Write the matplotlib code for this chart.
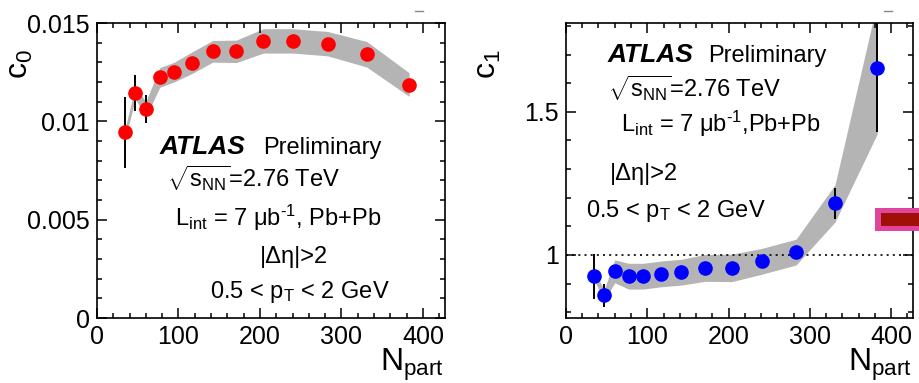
"""
c0 and c1 versus Npart, ATLAS Pb+Pb 2.76 TeV
"""

import numpy as np
import matplotlib
matplotlib.use("Agg")
from matplotlib import pyplot as plt
from matplotlib.ticker import MultipleLocator, FormatStrFormatter
from matplotlib.patches import Rectangle
from matplotlib.lines import Line2D

plt.rcParams['font.family'] = ['Liberation Sans', 'DejaVu Sans']
plt.rcParams['mathtext.fontset'] = 'custom'
plt.rcParams['mathtext.rm'] = 'Liberation Sans'
plt.rcParams['mathtext.it'] = 'Liberation Sans:italic'
plt.rcParams['mathtext.bf'] = 'Liberation Sans:bold'

# centrality bins
npart = np.array([35, 47, 60, 77, 95, 117, 142, 171, 204, 241, 283, 331, 383])

c0 = np.array([0.00944, 0.01145, 0.01062, 0.01223, 0.01251, 0.01299, 0.01356,
               0.01356, 0.01409, 0.01409, 0.01395, 0.01341, 0.01187])
c0_stat = np.array([0.0018, 0.0009, 0.0007, 0.0002, 0.0001, 0.0001, 0.0001,
                    0.0001, 0.0001, 0.0001, 0.0001, 0.0001, 0.0001])
c0_sys = np.array([0.0003, 0.0003, 0.0004, 0.0005, 0.0005, 0.00055, 0.00055,
                   0.00057, 0.00062, 0.00062, 0.00062, 0.00065, 0.0006])

c1 = np.array([0.926, 0.860, 0.943, 0.926, 0.926, 0.934, 0.940, 0.955, 0.955,
               0.978, 1.010, 1.180, 1.653])
c1_stat = np.array([0.079, 0.04, 0.02, 0.012, 0.01, 0.01, 0.01, 0.01, 0.01,
                    0.01, 0.01, 0.055, 0.225])
c1_sys = np.array([0.015, 0.02, 0.04, 0.045, 0.045, 0.045, 0.045, 0.047, 0.048,
                   0.045, 0.045, 0.065, 0.23])

TEXT_SIZE = 17
TICK_SIZE = 18
LABEL_SIZE = 23
BAND_COLOR = '#b4b4b4'

SQRT_S = r'$\sqrt{\mathrm{s}_{\rm NN}}$=2.76 TeV'
PT_CUT = r'0.5 < p$_{\rm T}$ < 2 GeV'


def style_axes(ax, ymajor, yminor, yfmt):
    ax.set_xlim(0, 427)
    ax.xaxis.set_major_locator(MultipleLocator(100))
    ax.xaxis.set_minor_locator(MultipleLocator(20))
    ax.yaxis.set_major_locator(MultipleLocator(ymajor))
    ax.yaxis.set_minor_locator(MultipleLocator(yminor))
    ax.yaxis.set_major_formatter(FormatStrFormatter(yfmt))
    ax.tick_params(which='both', direction='in', top=True, right=True,
                   width=1.1, labelsize=TICK_SIZE)
    ax.tick_params(which='major', length=7, pad=5)
    ax.tick_params(which='minor', length=3.6)
    for sp in ax.spines.values():
        sp.set_linewidth(1.2)


def draw_series(ax, y, stat, sys, color):
    ax.fill_between(npart, y - sys, y + sys, color=BAND_COLOR, lw=0, zorder=1)
    ax.errorbar(npart, y, yerr=stat, fmt='o', color=color, ecolor='black',
                elinewidth=1.4, capsize=0, markersize=9.5, zorder=3)


def atlas_label(ax, x, y, xprel):
    ax.text(x, y, 'ATLAS', fontsize=19, fontweight='bold',
            fontstyle='italic', va='baseline')
    ax.text(xprel, y, 'Preliminary', fontsize=TEXT_SIZE, va='baseline')


def axis_titles(ax, ytitle, xlab_x):
    ax.text(xlab_x, 0.91, ytitle, transform=ax.transAxes, rotation=90,
            fontsize=LABEL_SIZE, ha='center', va='top')
    ax.text(0.996, -0.098, r'N$_{\rm part}$', transform=ax.transAxes,
            fontsize=LABEL_SIZE, ha='right', va='top')


fig = plt.figure(figsize=(9.2, 3.83), dpi=100)
ax0 = fig.add_axes([0.1054, 0.1697, 0.3783, 0.7702])
ax1 = fig.add_axes([0.6152, 0.1697, 0.3772, 0.7702])

# left: c0
style_axes(ax0, 0.005, 0.001, '%g')
ax0.set_ylim(0, 0.015)
draw_series(ax0, c0, c0_stat, c0_sys, '#ff0000')
atlas_label(ax0, 77, 0.00834, 204)
ax0.text(86, 0.00666, SQRT_S, fontsize=TEXT_SIZE, va='baseline')
ax0.text(96, 0.00468, r'L$_{\rm int}$ = 7 μb$^{\text{-1}}$, Pb+Pb', fontsize=TEXT_SIZE, va='baseline')
ax0.text(200, 0.0028, '|Δη|>2', fontsize=TEXT_SIZE, va='baseline')
ax0.text(139, 0.00102, PT_CUT, fontsize=TEXT_SIZE, va='baseline')
axis_titles(ax0, r'c$_{\rm 0}$', -0.221)

# right: c1
style_axes(ax1, 0.5, 0.1, '%g')
ax1.set_ylim(0.78, 1.81)
ax1.axhline(1, color='black', lw=1.2, ls=(0, (1.2, 2.5)), zorder=2)
draw_series(ax1, c1, c1_stat, c1_sys, '#0000ff')
atlas_label(ax1, 51, 1.675, 175)
ax1.text(52, 1.552, SQRT_S, fontsize=TEXT_SIZE, va='baseline')
ax1.text(68, 1.43, r'L$_{\rm int}$ = 7 μb$^{\text{-1}}$,Pb+Pb', fontsize=TEXT_SIZE, va='baseline')
ax1.text(54, 1.262, '|Δη|>2', fontsize=TEXT_SIZE, va='baseline')
ax1.text(25, 1.133, PT_CUT, fontsize=TEXT_SIZE, va='baseline')
axis_titles(ax1, r'c$_{\rm 1}$', -0.225)

# cut-off legend box at the right edge
fig.add_artist(Rectangle((875 / 920, 1 - 231 / 383), 50 / 920, 23 / 383,
                         transform=fig.transFigure, color='#e0449c', lw=0))
fig.add_artist(Rectangle((881 / 920, 1 - 226 / 383), 45 / 920, 13 / 383,
                         transform=fig.transFigure, color='#a01008', lw=0))

# small dashes above the frames
for x0 in (415, 884):
    fig.add_artist(Line2D([x0 / 920, (x0 + 8) / 920], [1 - 11 / 383, 1 - 11 / 383],
                          transform=fig.transFigure, color='#888888', lw=1))

fig.savefig('out.png', dpi=100)
plt.close(fig)
